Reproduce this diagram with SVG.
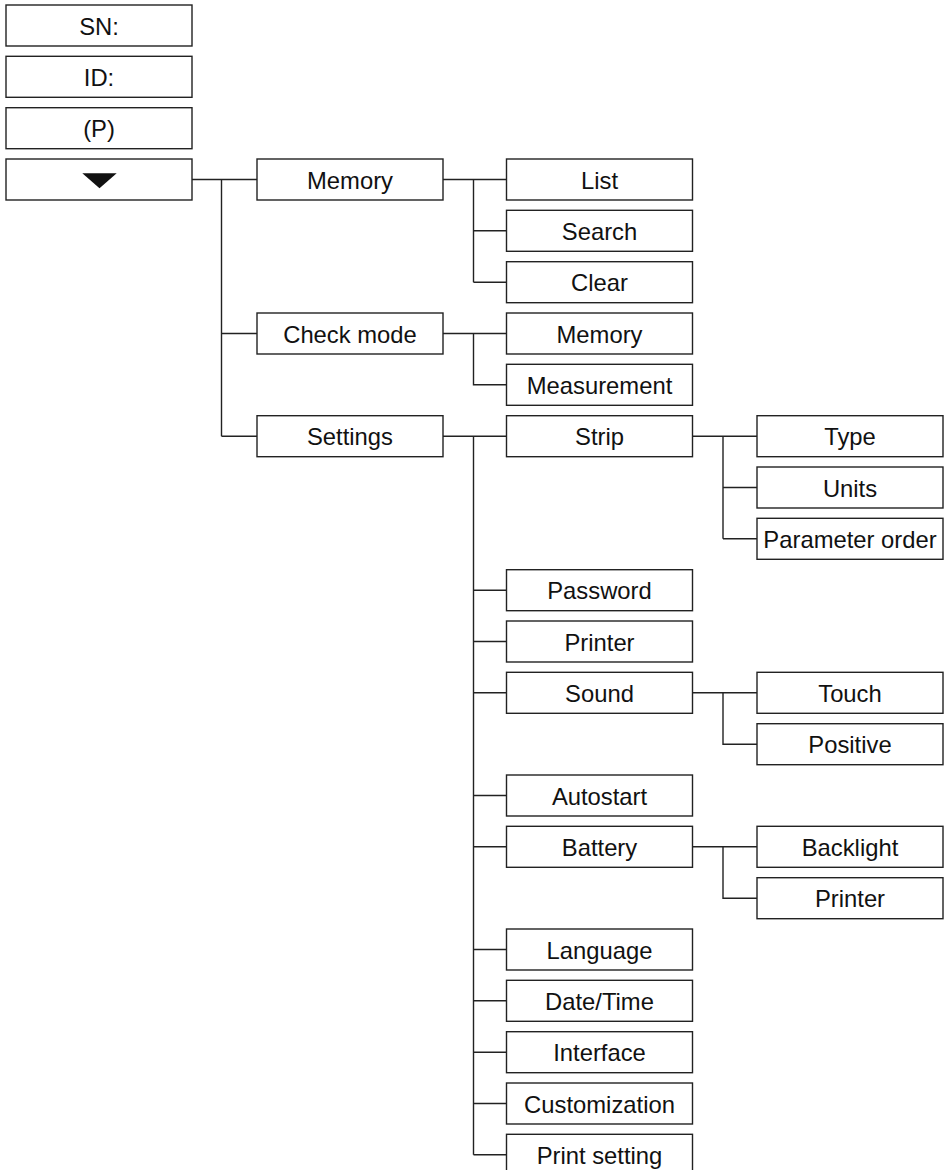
<svg xmlns="http://www.w3.org/2000/svg" width="948" height="1170" viewBox="0 0 948 1170">
<style>
.b{fill:#fff;stroke:#222;stroke-width:1.4}
.t{font-family:"Liberation Sans",Arial,sans-serif;font-size:23.8px;fill:#111;text-anchor:middle}
.c{fill:none;stroke:#222;stroke-width:1.4}
</style>
<rect width="948" height="1170" fill="#fff"/>
<g id="connectors" class="c">
<path d="M192,179.5H257M221.5,179.5V436.2M221.5,333.5H257M221.5,436.2H257"/>
<path d="M443,179.5H506.5M473.5,179.5V282.2M473.5,230.8H506.5M473.5,282.2H506.5"/>
<path d="M443,333.5H506.5M473.5,333.5V384.8H506.5"/>
<path d="M443,436.2H506.5M473.5,436.2V1154.8M473.5,590.2H506.5M473.5,641.5H506.5M473.5,692.8H506.5M473.5,795.5H506.5M473.5,846.8H506.5M473.5,949.5H506.5M473.5,1000.8H506.5M473.5,1052.2H506.5M473.5,1103.5H506.5M473.5,1154.8H506.5"/>
<path d="M692.5,436.2H757M723,436.2V538.8M723,487.5H757M723,538.8H757"/>
<path d="M692.5,692.8H757M723,692.8V744.2H757"/>
<path d="M692.5,846.8H757M723,846.8V898.2H757"/>
</g>
<g id="sn"><rect class="b" x="6" y="5" width="186" height="41"/><text class="t" x="99" y="34.5">SN:</text></g>
<g id="id"><rect class="b" x="6" y="56.3" width="186" height="41"/><text class="t" x="99" y="85.8">ID:</text></g>
<g id="p"><rect class="b" x="6" y="107.7" width="186" height="41"/><text class="t" x="99" y="137.2">(P)</text></g>
<g id="menu"><rect class="b" x="6" y="159" width="186" height="41"/><polygon points="82.3,173.3 116.7,173.3 99.5,188.3" fill="#111"/></g>
<g id="memory"><rect class="b" x="257" y="159" width="186" height="41"/><text class="t" x="350" y="188.5">Memory</text></g>
<g id="checkmode"><rect class="b" x="257" y="313" width="186" height="41"/><text class="t" x="350" y="342.5">Check mode</text></g>
<g id="settings"><rect class="b" x="257" y="415.7" width="186" height="41"/><text class="t" x="350" y="445.2">Settings</text></g>
<g id="list"><rect class="b" x="506.5" y="159" width="186" height="41"/><text class="t" x="599.5" y="188.5">List</text></g>
<g id="search"><rect class="b" x="506.5" y="210.3" width="186" height="41"/><text class="t" x="599.5" y="239.8">Search</text></g>
<g id="clear"><rect class="b" x="506.5" y="261.7" width="186" height="41"/><text class="t" x="599.5" y="291.2">Clear</text></g>
<g id="cm-memory"><rect class="b" x="506.5" y="313" width="186" height="41"/><text class="t" x="599.5" y="342.5">Memory</text></g>
<g id="measurement"><rect class="b" x="506.5" y="364.3" width="186" height="41"/><text class="t" x="599.5" y="393.8">Measurement</text></g>
<g id="strip"><rect class="b" x="506.5" y="415.7" width="186" height="41"/><text class="t" x="599.5" y="445.2">Strip</text></g>
<g id="password"><rect class="b" x="506.5" y="569.7" width="186" height="41"/><text class="t" x="599.5" y="599.2">Password</text></g>
<g id="printer"><rect class="b" x="506.5" y="621" width="186" height="41"/><text class="t" x="599.5" y="650.5">Printer</text></g>
<g id="sound"><rect class="b" x="506.5" y="672.3" width="186" height="41"/><text class="t" x="599.5" y="701.8">Sound</text></g>
<g id="autostart"><rect class="b" x="506.5" y="775" width="186" height="41"/><text class="t" x="599.5" y="804.5">Autostart</text></g>
<g id="battery"><rect class="b" x="506.5" y="826.3" width="186" height="41"/><text class="t" x="599.5" y="855.8">Battery</text></g>
<g id="language"><rect class="b" x="506.5" y="929" width="186" height="41"/><text class="t" x="599.5" y="958.5">Language</text></g>
<g id="datetime"><rect class="b" x="506.5" y="980.3" width="186" height="41"/><text class="t" x="599.5" y="1009.8">Date/Time</text></g>
<g id="interface"><rect class="b" x="506.5" y="1031.7" width="186" height="41"/><text class="t" x="599.5" y="1061.2">Interface</text></g>
<g id="customization"><rect class="b" x="506.5" y="1083" width="186" height="41"/><text class="t" x="599.5" y="1112.5">Customization</text></g>
<g id="printsetting"><rect class="b" x="506.5" y="1134.3" width="186" height="41"/><text class="t" x="599.5" y="1163.8">Print setting</text></g>
<g id="type"><rect class="b" x="757" y="415.7" width="186" height="41"/><text class="t" x="850" y="445.2">Type</text></g>
<g id="units"><rect class="b" x="757" y="467" width="186" height="41"/><text class="t" x="850" y="496.5">Units</text></g>
<g id="paramorder"><rect class="b" x="757" y="518.3" width="186" height="41"/><text class="t" x="850" y="547.8">Parameter order</text></g>
<g id="touch"><rect class="b" x="757" y="672.3" width="186" height="41"/><text class="t" x="850" y="701.8">Touch</text></g>
<g id="positive"><rect class="b" x="757" y="723.7" width="186" height="41"/><text class="t" x="850" y="753.2">Positive</text></g>
<g id="backlight"><rect class="b" x="757" y="826.3" width="186" height="41"/><text class="t" x="850" y="855.8">Backlight</text></g>
<g id="bat-printer"><rect class="b" x="757" y="877.7" width="186" height="41"/><text class="t" x="850" y="907.2">Printer</text></g>
</svg>
